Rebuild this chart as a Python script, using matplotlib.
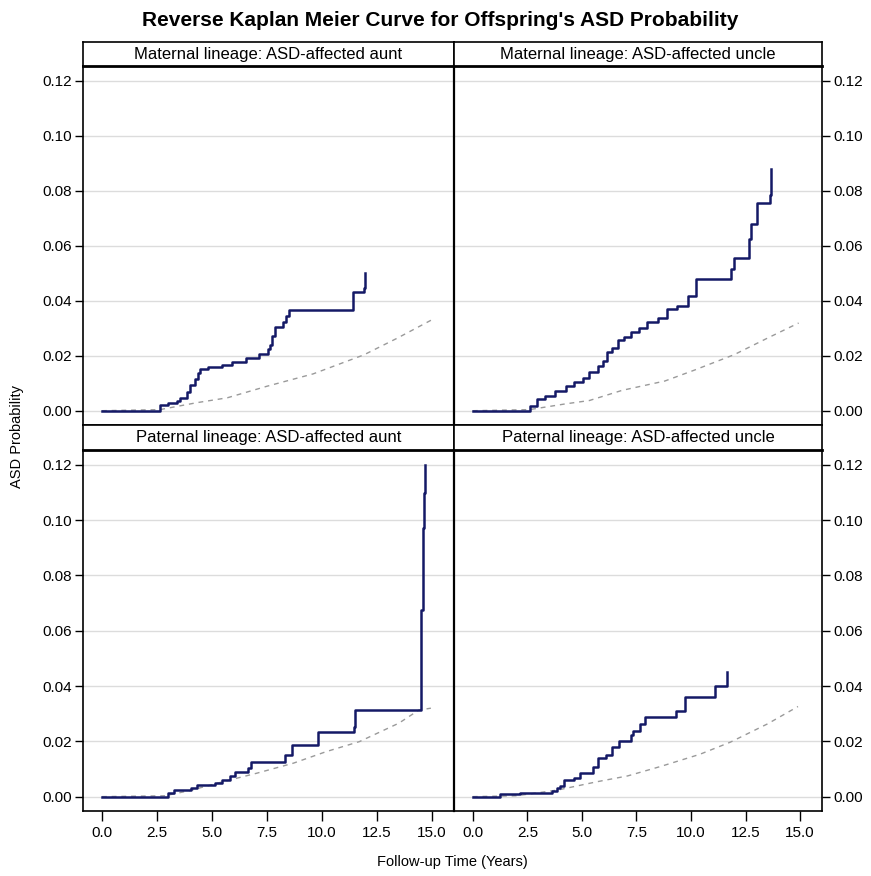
import matplotlib
matplotlib.use("Agg")
import matplotlib.pyplot as plt

plt.rcParams['font.family'] = ['Liberation Sans', 'DejaVu Sans']

title = "Reverse Kaplan Meier Curve for Offspring's ASD Probability"
panel_titles = ["Maternal lineage: ASD-affected aunt", "Maternal lineage: ASD-affected uncle",
                "Paternal lineage: ASD-affected aunt", "Paternal lineage: ASD-affected uncle"]
xlabel = "Follow-up Time (Years)"
ylabel = "ASD Probability"
xticks = [0.0, 2.5, 5.0, 7.5, 10.0, 12.5, 15.0]
yticks = [0.00, 0.02, 0.04, 0.06, 0.08, 0.10, 0.12]

# Observed (reverse KM) step curves
mat_aunt_t = [0, 2.33, 2.64, 3.0, 3.4, 3.55, 3.85, 4.0, 4.23, 4.38, 4.45, 4.83, 5.44, 5.9, 6.53, 7.15, 7.56, 7.64, 7.74, 7.86, 8.24, 8.36, 8.5, 11.39, 11.9, 11.95]
mat_aunt_v = [0, 0.0, 0.0019, 0.0027, 0.0037, 0.0045, 0.0068, 0.0094, 0.0116, 0.0138, 0.0152, 0.0158, 0.0167, 0.0176, 0.0192, 0.0207, 0.0225, 0.0239, 0.0273, 0.0303, 0.0324, 0.0345, 0.0366, 0.0432, 0.0445, 0.0500]

mat_uncle_t = [0, 2.4, 2.6, 2.96, 3.3, 3.76, 4.26, 4.62, 5.04, 5.34, 5.72, 5.95, 6.17, 6.4, 6.67, 6.93, 7.23, 7.6, 7.98, 8.48, 8.89, 9.34, 9.87, 10.25, 11.83, 11.98, 12.66, 12.77, 13.04, 13.62, 13.66]
mat_uncle_v = [0, 0.0, 0.0017, 0.0041, 0.0053, 0.0070, 0.0089, 0.0104, 0.0118, 0.0140, 0.0162, 0.0182, 0.0213, 0.0228, 0.0258, 0.0267, 0.0287, 0.0300, 0.0324, 0.0339, 0.0370, 0.0382, 0.0418, 0.0478, 0.0514, 0.0554, 0.0626, 0.0681, 0.0754, 0.0786, 0.0880]

pat_aunt_t = [0, 2.86, 3.0, 3.27, 4.07, 4.3, 5.14, 5.44, 5.8, 6.05, 6.66, 6.77, 8.3, 8.64, 9.8, 11.45, 11.5, 14.48, 14.52, 14.57, 14.62, 14.67]
pat_aunt_v = [0, 0.0, 0.0012, 0.0024, 0.0030, 0.0042, 0.0050, 0.0060, 0.0076, 0.0090, 0.0103, 0.0127, 0.0151, 0.0187, 0.0233, 0.0251, 0.0314, 0.0384, 0.0675, 0.0971, 0.1100, 0.1200]

pat_uncle_t = [0, 1.24, 2.17, 3.61, 3.84, 3.99, 4.17, 4.62, 4.92, 5.50, 5.72, 6.10, 6.40, 6.71, 7.24, 7.34, 7.66, 7.91, 9.32, 9.73, 11.09, 11.66]
pat_uncle_v = [0, 0.0008, 0.0014, 0.0020, 0.0030, 0.0039, 0.0060, 0.0067, 0.0085, 0.0106, 0.0141, 0.0150, 0.0181, 0.0203, 0.0223, 0.0238, 0.0263, 0.0287, 0.0311, 0.0360, 0.0400, 0.0452]

# Expected (reference) dashed curves
mat_aunt_ref_t = [0, 2.64, 4.3, 5.7, 7.5, 9.6, 11.9, 13.4, 15.0]
mat_aunt_ref_v = [0, 0.0004, 0.0029, 0.0047, 0.0089, 0.0134, 0.0203, 0.0263, 0.0331]
mat_uncle_ref_t = [0, 2.6, 4.26, 5.34, 6.84, 8.8, 10.1, 11.98, 13.5, 14.93]
mat_uncle_ref_v = [0, 0.0004, 0.0025, 0.0037, 0.0074, 0.0108, 0.0146, 0.0204, 0.0264, 0.0319]
pat_aunt_ref_t = [0, 2.86, 4.0, 5.5, 7.05, 8.7, 10.2, 11.7, 13.5, 14.4, 14.95]
pat_aunt_ref_v = [0, 0.0003, 0.0022, 0.0054, 0.0085, 0.0121, 0.0163, 0.0199, 0.0266, 0.0313, 0.0320]
pat_uncle_ref_t = [0, 2.0, 3.9, 5.7, 7.1, 8.6, 10.4, 11.8, 13.5, 14.9]
pat_uncle_ref_v = [0, 0.0003, 0.0024, 0.0054, 0.0075, 0.0109, 0.0153, 0.0197, 0.0263, 0.0326]

obs = [(mat_aunt_t, mat_aunt_v), (mat_uncle_t, mat_uncle_v), (pat_aunt_t, pat_aunt_v), (pat_uncle_t, pat_uncle_v)]
ref = [(mat_aunt_ref_t, mat_aunt_ref_v), (mat_uncle_ref_t, mat_uncle_ref_v), (pat_aunt_ref_t, pat_aunt_ref_v), (pat_uncle_ref_t, pat_uncle_ref_v)]

W, H = 871, 876
fig = plt.figure(figsize=(W / 100, H / 100), dpi=100)

cols = [(83, 454), (454, 822)]
rows = [((42, 66), (66, 425)), ((425, 450), (450, 811))]

def frac(x0, x1, y0, y1):
    return [x0 / W, 1 - y1 / H, (x1 - x0) / W, (y1 - y0) / H]

navy = '#141966'
for r in range(2):
    (hy0, hy1), (py0, py1) = rows[r]
    for c in range(2):
        i = r * 2 + c
        x0, x1 = cols[c]
        ax = fig.add_axes(frac(x0, x1, py0, py1))
        t, v = obs[i]
        ax.step(t, v, where='post', color=navy, lw=1.8, zorder=3)
        rt, rv = ref[i]
        ax.plot(rt, rv, color='#9a9a9a', lw=1.0, linestyle=(0, (3.5, 3.5)), zorder=2)
        ax.set_ylim(-0.0052, 0.1254)
        ax.set_xlim(-0.86, 16.0)
        ax.set_yticks(yticks)
        ax.set_yticklabels([f"{y:.2f}" for y in yticks])
        ax.set_xticks(xticks)
        ax.set_xticklabels([f"{x:.1f}" for x in xticks])
        for yv in yticks:
            ax.axhline(yv, color='#dcdcdc', lw=1.0, zorder=1)
        ax.tick_params(axis='y', direction='out', length=6, width=1, labelsize=11, colors='black', pad=2)
        ax.tick_params(axis='x', direction='out', length=7, width=1, labelsize=11, colors='black', pad=4)
        if c == 1:
            ax.yaxis.tick_right()
        if r == 0:
            ax.tick_params(axis='x', bottom=False, labelbottom=False)
        for s in ax.spines.values():
            s.set_linewidth(1.2)
        ax.spines['left'].set_linewidth(1.6 if c == 1 else 1.2)
        # header strip
        hax = fig.add_axes(frac(x0, x1, hy0, hy1))
        hax.set_xticks([]); hax.set_yticks([])
        for s in hax.spines.values():
            s.set_linewidth(1.2)
        hax.spines['bottom'].set_linewidth(2.0)
        hax.text(0.5, 0.5, panel_titles[i], ha='center', va='center', fontsize=12, transform=hax.transAxes)

fig.text(440 / W, 1 - 20 / H, title, ha='center', va='center', fontsize=15, fontweight='bold')
fig.text(452 / W, 1 - 862 / H, xlabel, ha='center', va='center', fontsize=10.5)
fig.text(17 / W, 1 - 437 / H, ylabel, ha='center', va='center', fontsize=10.5, rotation=90)

fig.savefig('out.png', dpi=100, facecolor='white')
